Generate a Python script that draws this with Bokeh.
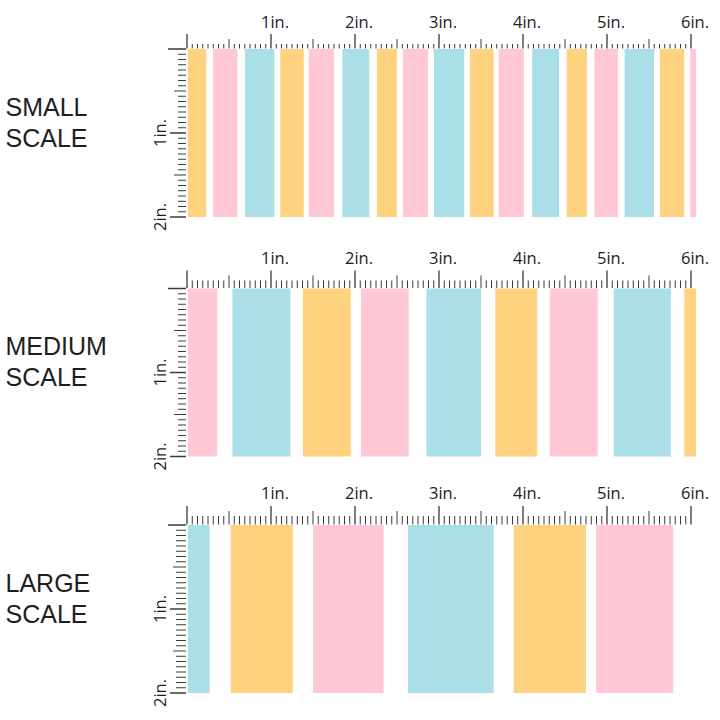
import numpy as np
from bokeh.plotting import figure
from bokeh.models import Range1d, ColumnDataSource
from bokeh.embed import file_html
from bokeh.resources import INLINE
from bokeh.core.properties import value

# ---------------- data (inches) ----------------
COLORS = {"orange": "#FED27F", "pink": "#FFC8D4", "blue": "#AADFE8"}

small_left = [0.01, 0.31, 0.69, 1.11, 1.45, 1.85, 2.26, 2.57, 2.94, 3.37, 3.71, 4.11, 4.52, 4.85, 5.21, 5.63, 5.99]
small_right = [0.23, 0.60, 1.04, 1.39, 1.75, 2.17, 2.50, 2.87, 3.30, 3.65, 4.01, 4.43, 4.76, 5.13, 5.56, 5.92, 6.06]
small_color = ["orange", "pink", "blue"] * 5 + ["orange", "pink"]

medium_left = [0.01, 0.54, 1.38, 2.07, 2.85, 3.67, 4.32, 5.08, 5.92]
medium_right = [0.36, 1.23, 1.95, 2.64, 3.50, 4.17, 4.89, 5.76, 6.06]
medium_color = ["pink", "blue", "orange", "pink", "blue", "orange", "pink", "blue", "orange"]

large_left = [0.01, 0.52, 1.50, 2.63, 3.89, 4.87]
large_right = [0.27, 1.26, 2.34, 3.65, 4.75, 5.79]
large_color = ["blue", "orange", "pink", "blue", "orange", "pink"]

panel_titles = [["SMALL", "SCALE"], ["MEDIUM", "SCALE"], ["LARGE", "SCALE"]]

top_tick_values = [1, 2, 3, 4, 5, 6]
top_tick_labels = ["1in.", "2in.", "3in.", "4in.", "5in.", "6in."]
side_tick_values = [1, 2]
side_tick_labels = ["1in.", "2in."]
ruler_width_in = 6
ruler_height_in = 2
stripe_height_in = 2

# ---------------- layout ----------------
PX = 84.0            # pixels per inch
W = 720
H = 720
X0_PX = 186.5        # pixel position of the 0-inch mark
TICK_COLOR = "#3a3a3a"
TEXT_COLOR = "#1e1e1e"

xstart = -X0_PX / PX
p = figure(width=W, height=H,
           x_range=Range1d(xstart, xstart + W / PX),
           y_range=Range1d(H / PX, 0),
           output_backend="svg", toolbar_location=None,
           x_axis_location=None, y_axis_location=None,
           min_border=0)
p.grid.visible = False
p.outline_line_color = None
p.background_fill_color = "white"
p.border_fill_color = "white"


def draw_panel(lefts, rights, colors, title, top_px, top_ticks, side_ticks, label_gap_px):
    y0 = top_px / PX   # panel offset (inches from top of page)
    src = ColumnDataSource(dict(left=lefts, right=rights,
                                top=[y0] * len(lefts),
                                bottom=[y0 + stripe_height_in] * len(lefts),
                                color=[COLORS[c] for c in colors]))
    p.quad(left="left", right="right", top="top", bottom="bottom",
           fill_color="color", line_color=None, source=src)

    # top ruler ticks (1/16 inch)
    n = ruler_width_in * 16
    idx = np.arange(n + 1)
    xs = idx / 16.0
    small_l, half_l, inch_l = top_ticks
    lens = np.where(idx % 16 == 0, inch_l, np.where(idx % 8 == 0, half_l, small_l)) / PX
    widths = np.where(idx % 16 == 0, 1.3, 1.0)
    p.segment(x0=xs, y0=np.full_like(xs, y0 - 0.5 / PX), x1=xs, y1=y0 - lens,
              line_color=TICK_COLOR, line_width=widths)

    # left ruler ticks
    m = ruler_height_in * 16
    jdx = np.arange(m + 1)
    ys = y0 + jdx / 16.0
    s_small, s_half, s_inch = side_ticks
    slens = np.where(jdx % 16 == 0, s_inch, np.where(jdx % 8 == 0, s_half, s_small)) / PX
    slens[0] = (s_inch + 2) / PX
    swidths = np.where(jdx % 16 == 0, 1.3, 1.0)
    p.segment(x0=np.full_like(ys, -1 / PX), y0=ys, x1=-slens - 1 / PX, y1=ys,
              line_color=TICK_COLOR, line_width=swidths)

    # top labels
    p.text(x=top_tick_values,
           y=[y0 - (label_gap_px + 7) / PX] * len(top_tick_values),
           text=top_tick_labels, text_font=value("Open Sans"), text_font_size="16.5px",
           text_align="center", text_baseline="alphabetic", x_offset=4,
           text_color=TEXT_COLOR)
    # side labels (rotated)
    p.text(x=[-28 / PX] * len(side_tick_values),
           y=[y0 + v for v in side_tick_values],
           text=side_tick_labels, text_font=value("Open Sans"), text_font_size="16.5px",
           text_align="center", text_baseline="alphabetic", angle=np.pi / 2,
           text_color=TEXT_COLOR)

    # panel title
    p.text(x=[xstart + 5 / PX] * 2, y=[y0 + 57.5 / PX, y0 + 88.5 / PX], text=title,
           text_font=value("Liberation Sans"), text_font_size="25px",
           text_align="left", text_baseline="alphabetic", text_color=TEXT_COLOR)


draw_panel(small_left, small_right, small_color, panel_titles[0], 48.5,
           (5, 10, 15), (8, 12, 16), 20.5)
draw_panel(medium_left, medium_right, medium_color, panel_titles[1], 288,
           (8, 13, 18), (8, 12, 16), 24)
draw_panel(large_left, large_right, large_color, panel_titles[2], 524.5,
           (9, 14, 19), (10, 13, 16), 25.5)

open("out.html", "w").write(file_html(p, INLINE))
